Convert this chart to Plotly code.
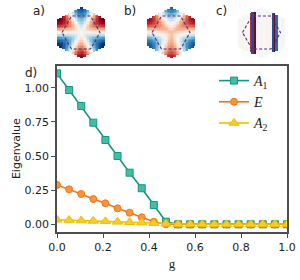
import numpy as np
import plotly.graph_objects as go

# ---------------- data ----------------
g_values = [i / 19 for i in range(20)]
A1_values = [1.105, 0.983, 0.866, 0.744, 0.617, 0.500, 0.378, 0.264, 0.141, 0.019,
             0, 0, 0, 0, 0, 0, 0, 0, 0, 0]
E_values = [0.288, 0.256, 0.222, 0.185, 0.154, 0.117, 0.085, 0.051, 0.019, 0.0,
            0, 0, 0, 0, 0, 0, 0, 0, 0, 0]
A2_values = [0.033, 0.031, 0.028, 0.025, 0.022, 0.018, 0.015, 0.012, 0.008, 0.004,
             0, 0, 0, 0, 0, 0, 0, 0, 0, 0]
x_ticks = [0.0, 0.2, 0.4, 0.6, 0.8, 1.0]
y_ticks = [0.0, 0.25, 0.50, 0.75, 1.00]

# inset illustration parameters (sector amplitudes of the mode patterns)
inset_a_lobe_amp = 1.1
inset_b_lobe_amp = 0.95
inset_b_center = 0.35
# column profile (stripes) for inset c, for x cell centres -23..23 step 2
inset_c_columns = [0.0, 0.02, 0.04, 0.0, 0.02, 0.0, 0.8, -0.95, 1.05, -0.05, 0.03, -0.02,
                   0.02, 0.0, 0.03, 0.0, 0.05, -0.95, 1.05, -0.85, 0.02, 0.0, -0.03, 0.0]

TEAL_L, TEAL_F = "#10997f", "#45bda5"
ORNG_L, ORNG_F = "#ef7618", "#f5953d"
YELL_L, YELL_F = "#efbf00", "#f5cb2e"
SPINE = "#4d4d4d"

rdbu_r = [[0.0, "#053061"], [0.1, "#2166ac"], [0.2, "#4393c3"], [0.3, "#92c5de"],
          [0.4, "#d1e5f0"], [0.5, "#f7f7f7"], [0.6, "#fddbc7"], [0.7, "#f4a582"],
          [0.8, "#d6604d"], [0.9, "#b2182b"], [1.0, "#67001f"]]

fig = go.Figure()

fig.add_trace(go.Scatter(x=g_values, y=A1_values, name="<i>A</i><sub>1</sub>",
                         mode="lines+markers",
                         line=dict(color=TEAL_L, width=1.6),
                         marker=dict(symbol="square", size=7, color=TEAL_F,
                                     line=dict(color=TEAL_L, width=1))))
fig.add_trace(go.Scatter(x=g_values, y=E_values, name="<i>E</i>",
                         mode="lines+markers",
                         line=dict(color=ORNG_L, width=1.6),
                         marker=dict(symbol="circle", size=7, color=ORNG_F,
                                     line=dict(color=ORNG_L, width=1))))
fig.add_trace(go.Scatter(x=g_values, y=A2_values, name="<i>A</i><sub>2</sub>",
                         mode="lines+markers",
                         line=dict(color=YELL_L, width=1.6),
                         marker=dict(symbol="triangle-up", size=9, color=YELL_F,
                                     line=dict(color=YELL_L, width=1))))

# ---------------- insets ----------------
HW, HV, HS = 24.0, 25.5, 13.5   # hexagon half width, vertex height, side height
xc = np.arange(-23.25, 24, 1.5)
yc = np.arange(-24.75, 25.5, 1.5)
X, Y = np.meshgrid(xc, yc)
inside = (np.abs(X) <= HW) & (np.abs(Y) <= HV - (HV - HS) * np.abs(X) / HW + 0.3)
TH = np.arctan2(Y / HV, X / HW)
R = np.sqrt((X / HW) ** 2 + (Y / HV) ** 2)

za = inset_a_lobe_amp * np.sin(3 * TH) * np.clip(R, 0, 1) ** 1.2
zb = inset_b_lobe_amp * np.sin(3 * TH) * np.clip(R, 0, 1) ** 1.4 + inset_b_center * np.clip(1 - R, 0, 1) ** 1.5
col_x = np.arange(-23, 24, 2.0)
col_idx = np.clip(np.rint((xc + 23) / 2).astype(int), 0, len(col_x) - 1)
zc = np.array([np.array(inset_c_columns)[col_idx]] * len(yc))
zc = np.where(np.abs(Y) > 21, 0.0, zc)
zs = [np.where(inside, z, np.nan) for z in (za, zb, zc)]

centers_px = [81, 171, 261.5]
ydom = [(280 - 58) / 280, (280 - 7) / 280]
dash_hex = "M -19 0 L -9.5 16.5 L 9.5 16.5 L 19 0 L 9.5 -16.5 L -9.5 -16.5 Z"
for i, (z, cx) in enumerate(zip(zs, centers_px)):
    n = i + 2
    fig.add_trace(go.Heatmap(x=xc, y=yc, z=z, colorscale=rdbu_r, zmin=-1.1, zmax=1.1,
                             showscale=False, xaxis=f"x{n}", yaxis=f"y{n}", hoverinfo="skip"))
    fig.update_layout(**{
        f"xaxis{n}": dict(domain=[(cx - 24) / 300, (cx + 24) / 300], range=[-24, 24],
                          visible=False, anchor=f"y{n}", automargin=False),
        f"yaxis{n}": dict(domain=ydom, range=[-25.5, 25.5], visible=False, anchor=f"x{n}",
                          automargin=False),
    })
    fig.add_shape(type="path", path=dash_hex, xref=f"x{n}", yref=f"y{n}",
                  line=dict(color="#55307f", width=1.1, dash="3px,2px"))

labels = [("a)", 39, 11), ("b)", 130, 11), ("c)", 221, 11), ("d)", 31, 73)]
for t, px, py in labels:
    fig.add_annotation(text=t, x=px / 300, y=1 - py / 280, xref="paper", yref="paper",
                       showarrow=False, font=dict(family="DejaVu Sans", size=12, color="#222"),
                       xanchor="center", yanchor="middle")

fig.update_layout(
    width=300, height=280, margin=dict(l=0, r=0, t=0, b=0, autoexpand=False),
    paper_bgcolor="white", plot_bgcolor="white",
    font=dict(family="DejaVu Sans", size=11, color="#222"),
    showlegend=True,
    legend=dict(x=214 / 300, y=1 - 65 / 280, xanchor="left", yanchor="top",
                bgcolor="rgba(0,0,0,0)", font=dict(family="Liberation Serif", size=14),
                tracegroupgap=0, itemwidth=30),
    xaxis=dict(domain=[57 / 300, 287 / 300], range=[0, 1], tickvals=x_ticks,
               tickformat=".1f", ticks="outside", ticklen=4, tickwidth=1.2, tickcolor=SPINE,
               showline=True, linecolor=SPINE, linewidth=1.6, mirror=True,
               showgrid=False, zeroline=False, automargin=False,
               title=dict(text="g", font=dict(family="Liberation Serif", size=13), standoff=6)),
    yaxis=dict(domain=[(280 - 231.7) / 280, (280 - 65.7) / 280], range=[-0.054, 1.161],
               tickvals=y_ticks, tickformat=".2f", ticks="outside", ticklen=4, tickwidth=1.2,
               tickcolor=SPINE, showline=True, linecolor=SPINE, linewidth=1.6, mirror=True,
               showgrid=False, zeroline=False, automargin=False,
               title=dict(text="Eigenvalue", font=dict(family="DejaVu Sans", size=11), standoff=2)),
)

fig.write_html("out.html", config={"displayModeBar": False},
               post_script="document.body.style.margin='0px';")
